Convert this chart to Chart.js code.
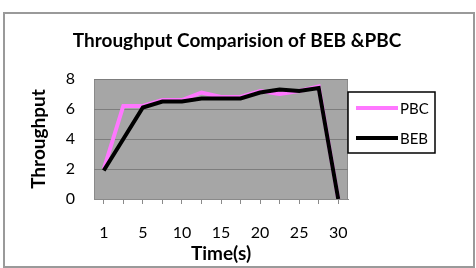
<!DOCTYPE html>
<html>
<head>
<meta charset="utf-8">
<script src="https://cdn.jsdelivr.net/npm/chart.js@4"></script>
<style>
  body { margin: 0; background: #fff; }
  #frame { position: absolute; left: 3px; top: 12px; width: 468px; height: 252px; border: 2px solid #9a9a9a; }
  #wrap { position: absolute; left: 0; top: 0; width: 476px; height: 268px; }
</style>
</head>
<body>
<div id="frame"></div>
<div id="wrap"><canvas id="throughput-chart" width="476" height="268"></canvas></div>
<script>
// tick labels on the time axis (only every other one is labelled)
const timeLabels = ["1", "", "5", "", "10", "", "15", "", "20", "", "25", "", "30"];
const pbcValues = [2.0, 6.2, 6.2, 6.6, 6.6, 7.1, 6.8, 6.8, 7.2, 7.0, 7.2, 7.5, 0];
const bebValues = [1.9, 4.0, 6.1, 6.5, 6.5, 6.7, 6.7, 6.7, 7.1, 7.3, 7.2, 7.4, 0];
const seriesNames = ["PBC", "BEB"];
const seriesColors = ["#ff77ff", "#000000"];
const chartTitle = "Throughput Comparision of BEB &PBC";

const FONT = "Lato, 'Open Sans', sans-serif";

// grey plot background + border
const plotBg = {
  id: "plotBg",
  beforeDraw(chart) {
    const a = chart.chartArea, c = chart.ctx;
    c.save();
    c.fillStyle = "#a6a6a6";
    c.fillRect(a.left, a.top, a.right - a.left, a.bottom - a.top);
    c.strokeStyle = "#8a8a8a";
    c.lineWidth = 1;
    c.strokeRect(a.left + 0.5, a.top + 0.5, a.right - a.left - 1, a.bottom - a.top);
    c.restore();
  }
};

// title centred on the whole picture + legend box on the right
const extras = {
  id: "extras",
  afterDraw(chart) {
    const c = chart.ctx;
    c.save();
    c.fillStyle = "#000";
    c.font = "bold 19px " + FONT;
    c.textAlign = "center";
    c.textBaseline = "middle";
    c.fillText(chartTitle, 237, 41);

    const x = 348, y = 92, w = 87, h = 61;
    c.fillStyle = "#fff";
    c.fillRect(x, y, w, h);
    c.strokeStyle = "#000";
    c.lineWidth = 1.5;
    c.strokeRect(x, y, w, h);
    c.font = "15px " + FONT;
    c.textAlign = "left";
    for (let i = 0; i < seriesNames.length; i++) {
      const ly = 108 + i * 30;
      c.strokeStyle = seriesColors[i];
      c.lineWidth = 4;
      c.beginPath();
      c.moveTo(356, ly);
      c.lineTo(398, ly);
      c.stroke();
      c.fillStyle = "#000";
      c.fillText(seriesNames[i], 400, ly + 1);
    }
    c.restore();
  }
};

const ctx = document.getElementById("throughput-chart").getContext("2d");
var chart = new Chart(ctx, {
  type: "line",
  data: {
    labels: timeLabels,
    datasets: [
      {
        label: seriesNames[0],
        data: pbcValues,
        borderColor: seriesColors[0],
        backgroundColor: seriesColors[0],
        borderWidth: 4,
        pointRadius: 0,
        tension: 0,
        order: 1
      },
      {
        label: seriesNames[1],
        data: bebValues,
        borderColor: seriesColors[1],
        backgroundColor: seriesColors[1],
        borderWidth: 4,
        pointRadius: 0,
        tension: 0,
        order: 0
      }
    ]
  },
  options: {
    responsive: false,
    animation: false,
    layout: { padding: { left: 0, right: 128, top: 79, bottom: 0 } },
    scales: {
      x: {
        type: "category",
        offset: true,
        afterFit: function(s) { s.height = 69; },
        grid: { offset: false, drawOnChartArea: false, color: "#8a8a8a", tickLength: 5 },
        border: { color: "#8a8a8a" },
        ticks: { autoSkip: false, maxRotation: 0, color: "#000", font: { family: FONT, size: 16 }, padding: 19 },
        title: { display: true, text: "Time(s)", color: "#000", font: { family: FONT, size: 19, weight: "bold" }, padding: { top: 3, bottom: 3 } }
      },
      y: {
        min: 0,
        max: 8,
        afterFit: function(s) { s.width = 94; },
        grid: { color: "#7d7d7d", drawTicks: false },
        border: { display: false },
        ticks: { stepSize: 2, color: "#000", font: { family: FONT, size: 16 }, padding: 19 },
        title: { display: true, text: "Throughput", color: "#000", font: { family: FONT, size: 19, weight: "bold" }, padding: { top: 27.6, bottom: 0 } }
      }
    },
    plugins: {
      legend: { display: false },
      tooltip: { enabled: false },
      title: { display: false }
    }
  },
  plugins: [plotBg, extras]
});
</script>
</body>
</html>
